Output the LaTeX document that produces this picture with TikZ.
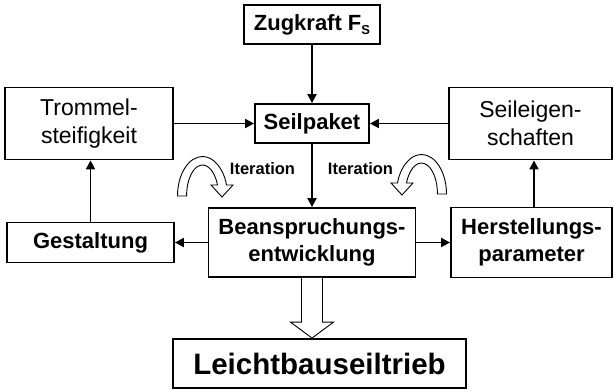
\documentclass[tikz,border=0pt]{standalone}
\usepackage{fontspec}
\setmainfont{Liberation Sans}
\usetikzlibrary{arrows.meta,calc}
\tikzset{
  box/.style={draw,line width=1.8pt,inner sep=0pt,align=center,
              font=\fontsize{22}{27}\selectfont\bfseries},
  plainbox/.style={box,font=\fontsize{23}{28}\selectfont},
  fl/.style={-{Triangle[length=9pt,width=9pt]},line width=1.8pt},
  hollow/.style={draw,line width=0.9pt,fill=white,line join=miter},
  iterlabel/.style={font=\fontsize{16.5}{18}\selectfont\bfseries,inner sep=0pt}
}

\begin{document}
\begin{tikzpicture}[x=1pt,y=1pt]
  \useasboundingbox (0,0) rectangle (615,-389);
  % boxes
  \node[box,minimum width=136pt,minimum height=39pt] (zug) at (312,-24.5)
    {Zugkraft F\raisebox{-4pt}{\fontsize{13}{13}\selectfont S}};
  \node[box,minimum width=114pt,minimum height=39pt] (seil) at (312,-123.5) {Seilpaket};
  \node[plainbox,minimum width=168pt,minimum height=72pt] (trommel) at (89,-123.5) {Trommel-\\steifigkeit};
  \node[plainbox,minimum width=163pt,minimum height=72pt] (eigen) at (530.5,-123.5) {Seileigen-\\schaften};
  \node[box,minimum width=167pt,minimum height=40pt] (gest) at (90.5,-242.5) {Gestaltung};
  \node[box,minimum width=207pt,minimum height=69pt] (bean) at (312,-242.5) {Beanspruchungs-\\entwicklung};
  \node[box,minimum width=161pt,minimum height=70pt] (herst) at (531.5,-242.5) {Herstellungs-\\parameter};
  \node[box,minimum width=293pt,minimum height=49pt,
        font=\fontsize{29.5}{32}\selectfont\bfseries] (leicht) at (319.5,-363.5) {Leichtbauseiltrieb};
  \node[iterlabel] (iterl) at (262.5,-169) {Iteration};
  \node[iterlabel] (iterr) at (360.5,-169) {Iteration};

  % arrows
  \draw[fl] (zug) -- (seil);
  \draw[fl] (trommel) -- (seil);
  \draw[fl] (eigen) -- (seil);
  \draw[fl] (seil) -- (bean);
  \draw[fl] (bean) -- (gest);
  \draw[fl] (bean) -- (herst);
  \draw[fl] (gest.north) -- (gest.north |- trommel.south);
  \draw[fl] ([xshift=2.5pt]herst.north) -- ([xshift=2.5pt]herst.north |- eigen.south);

  % wide arrow to the result
  \coordinate (tip) at (bean.south |- leicht.north);
  \draw[hollow] ($(bean.south)+(-10.5,0)$) -- ($(tip)+(-10.5,16)$) -- ($(tip)+(-21.5,16)$)
    -- (tip) -- ($(tip)+(21.5,16)$) -- ($(tip)+(10.5,16)$) -- ($(bean.south)+(10.5,0)$);

  % iteration loops
  \draw[hollow] (177.5,-196) arc[start angle=180,end angle=16.2,x radius=25,y radius=39.5]
    -- (233,-185) -- (222,-197) -- (211,-185) -- (217.5,-185)
    arc[start angle=20.8,end angle=180,x radius=16,y radius=31] -- cycle;
  \begin{scope}[xshift=624pt,yshift=2pt,xscale=-1]
    \draw[hollow] (177.5,-196) arc[start angle=180,end angle=16.2,x radius=25,y radius=39.5]
      -- (233,-185) -- (222,-197) -- (211,-185) -- (217.5,-185)
      arc[start angle=20.8,end angle=180,x radius=16,y radius=31] -- cycle;
  \end{scope}
\end{tikzpicture}
\end{document}
